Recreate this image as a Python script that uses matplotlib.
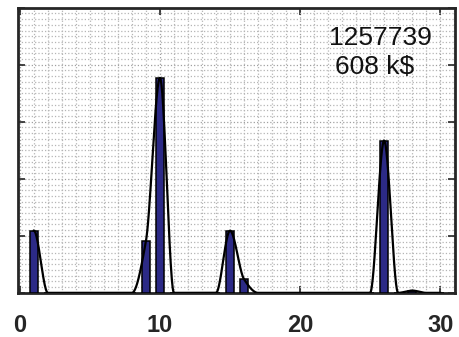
import numpy as np
import matplotlib
matplotlib.use('Agg')
import matplotlib.pyplot as plt
from matplotlib.ticker import MultipleLocator

# histogram values (bins 1..30)
bins = list(range(1, 31))
counts = [1.09, 0, 0, 0, 0, 0, 0, 0, 0.91, 3.77,
          0, 0, 0, 0, 1.09, 0.24, 0, 0, 0, 0,
          0, 0, 0, 0, 0, 2.67, 0, 0.04, 0, 0]
x_ticks = [0, 10, 20, 30]
label_lines = ['1257739', '608 k$']


def pchip(x, y, xs):
    # shape-preserving cubic (Fritsch-Carlson), drawn through the bar tops
    x = np.asarray(x, float)
    y = np.asarray(y, float)
    h = np.diff(x)
    d = np.diff(y) / h
    m = np.zeros_like(y)
    for k in range(1, len(y) - 1):
        if d[k - 1] * d[k] > 0:
            w1 = 2 * h[k] + h[k - 1]
            w2 = h[k] + 2 * h[k - 1]
            m[k] = (w1 + w2) / (w1 / d[k - 1] + w2 / d[k])
    m[0] = d[0] if d[0] * d[min(1, len(d) - 1)] > 0 else 0
    m[-1] = d[-1] if d[-1] * d[-2] > 0 else 0
    idx = np.clip(np.searchsorted(x, xs) - 1, 0, len(x) - 2)
    t = (xs - x[idx]) / h[idx]
    h00 = 2 * t**3 - 3 * t**2 + 1
    h10 = t**3 - 2 * t**2 + t
    h01 = -2 * t**3 + 3 * t**2
    h11 = t**3 - t**2
    return (h00 * y[idx] + h10 * h[idx] * m[idx]
            + h01 * y[idx + 1] + h11 * h[idx] * m[idx + 1])


fig = plt.figure(figsize=(4.59, 3.37), dpi=100)
ax = fig.add_axes([0.039, 0.131, 0.952, 0.846])

ax.bar(bins, counts, width=0.52, color='#2c2a86', edgecolor='black',
       linewidth=1.1, zorder=3)

xs = np.linspace(bins[0], bins[-1], 1500)
ax.plot(xs, pchip(bins, counts, xs), color='black', linewidth=1.6, zorder=4)

ax.set_xlim(-0.14, 31.05)
ax.set_ylim(0, 5)
ax.set_xticks(x_ticks)
ax.set_xticklabels([str(t) for t in x_ticks], fontsize=17,
                   fontweight='bold', family='Liberation Sans', color='#262626')
ax.set_yticks(range(0, 6))
ax.set_yticklabels([])

ax.xaxis.set_minor_locator(MultipleLocator(1))
ax.yaxis.set_minor_locator(MultipleLocator(0.1))
ax.grid(True, which='minor', linestyle=':', color='#b5b5b5', linewidth=0.9, zorder=0)
ax.grid(True, which='major', linestyle=':', color='#a0a0a0', linewidth=0.9, zorder=0)
ax.set_axisbelow(True)

ax.tick_params(which='major', direction='in', length=5, width=1.2,
               top=True, right=True, pad=15, colors='#262626')
ax.tick_params(which='minor', length=0)
for s in ax.spines.values():
    s.set_linewidth(2)
    s.set_color('#262626')

ax.text(22.07, 4.47, label_lines[0], fontsize=19, family='Liberation Sans',
        va='center', ha='left', color='#111111', zorder=5)
ax.text(22.5, 3.96, label_lines[1], fontsize=19, family='Liberation Sans',
        va='center', ha='left', color='#111111', zorder=5)

fig.savefig('out.png', dpi=100)
